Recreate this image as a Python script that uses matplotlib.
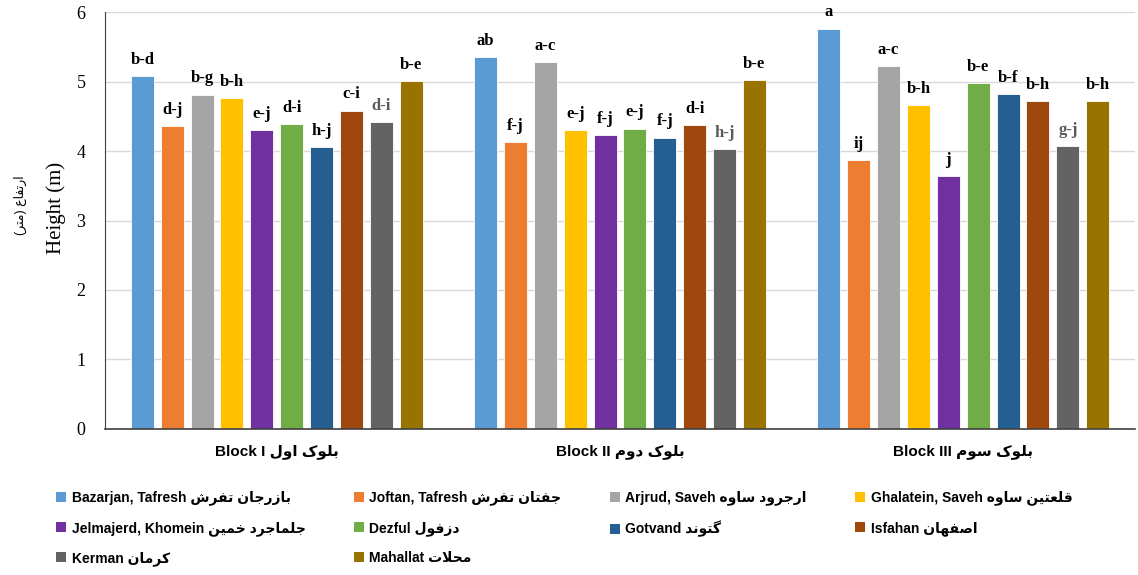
import numpy as np
import matplotlib
matplotlib.use("Agg")
import matplotlib.pyplot as plt
from matplotlib.patches import Patch

# data
blocks = ["Block I", "Block II", "Block III"]
blocks_fa = ["بلوک اول", "بلوک دوم", "بلوک سوم"]
sites = ["Bazarjan, Tafresh", "Joftan, Tafresh", "Arjrud, Saveh", "Ghalatein, Saveh",
         "Jelmajerd, Khomein", "Dezful", "Gotvand", "Isfahan", "Kerman", "Mahallat"]
sites_fa = ["بازرجان تفرش", "جفتان تفرش", "ارجرود ساوه", "قلعتین ساوه",
            "جلماجرد خمین", "دزفول", "گتوند", "اصفهان", "کرمان", "محلات"]
heights = [
    [5.08, 4.36, 4.81, 4.76, 4.30, 4.39, 4.06, 4.58, 4.42, 5.01],
    [5.35, 4.13, 5.28, 4.30, 4.23, 4.32, 4.19, 4.37, 4.03, 5.02],
    [5.76, 3.87, 5.22, 4.66, 3.64, 4.98, 4.82, 4.72, 4.07, 4.72],
]
letters = [
    ["b-d", "d-j", "b-g", "b-h", "e-j", "d-i", "h-j", "c-i", "d-i", "b-e"],
    ["ab", "f-j", "a-c", "e-j", "f-j", "e-j", "f-j", "d-i", "h-j", "b-e"],
    ["a", "ij", "a-c", "b-h", "j", "b-e", "b-f", "b-h", "g-j", "b-h"],
]
colors = ["#5B9BD5", "#ED7D31", "#A5A5A5", "#FFC000", "#7030A0",
          "#70AD47", "#255E91", "#9E480E", "#636363", "#997300"]

# minimal persian shaping (presentation forms), matplotlib does no shaping / bidi
FORMS = {
    "ا": (0xFE8D, 0xFE8E, None, None), "ب": (0xFE8F, 0xFE90, 0xFE91, 0xFE92),
    "ت": (0xFE95, 0xFE96, 0xFE97, 0xFE98), "ج": (0xFE9D, 0xFE9E, 0xFE9F, 0xFEA0),
    "ح": (0xFEA1, 0xFEA2, 0xFEA3, 0xFEA4), "خ": (0xFEA5, 0xFEA6, 0xFEA7, 0xFEA8),
    "د": (0xFEA9, 0xFEAA, None, None), "ر": (0xFEAD, 0xFEAE, None, None),
    "ز": (0xFEAF, 0xFEB0, None, None), "س": (0xFEB1, 0xFEB2, 0xFEB3, 0xFEB4),
    "ش": (0xFEB5, 0xFEB6, 0xFEB7, 0xFEB8), "ص": (0xFEB9, 0xFEBA, 0xFEBB, 0xFEBC),
    "ع": (0xFEC9, 0xFECA, 0xFECB, 0xFECC), "ف": (0xFED1, 0xFED2, 0xFED3, 0xFED4),
    "ق": (0xFED5, 0xFED6, 0xFED7, 0xFED8), "ل": (0xFEDD, 0xFEDE, 0xFEDF, 0xFEE0),
    "م": (0xFEE1, 0xFEE2, 0xFEE3, 0xFEE4), "ن": (0xFEE5, 0xFEE6, 0xFEE7, 0xFEE8),
    "ه": (0xFEE9, 0xFEEA, 0xFEEB, 0xFEEC), "و": (0xFEED, 0xFEEE, None, None),
    "ک": (0xFB8E, 0xFB8F, 0xFB90, 0xFB91), "گ": (0xFB92, 0xFB93, 0xFB94, 0xFB95),
    "ی": (0xFBFC, 0xFBFD, 0xFBFE, 0xFBFF),
}


def dual(c):
    return c in FORMS and FORMS[c][2] is not None


def shape(s):
    out = []
    i = 0
    while i < len(s):
        c = s[i]
        if c not in FORMS:
            out.append(c)
            i += 1
            continue
        prev = s[i - 1] if i > 0 else ""
        jp = dual(prev)
        if c == "ل" and i + 1 < len(s) and s[i + 1] == "ا":
            out.append(chr(0xFEFC if jp else 0xFEFB))
            i += 2
            continue
        nxt = s[i + 1] if i + 1 < len(s) else ""
        jn = dual(c) and nxt in FORMS
        f = FORMS[c]
        if jp and jn:
            code = f[3]
        elif jp:
            code = f[1]
        elif jn:
            code = f[2]
        else:
            code = f[0]
        out.append(chr(code))
        i += 1
    vis = "".join(reversed(out))
    return vis.translate(str.maketrans("()", ")("))


SANS = ["Liberation Sans", "DejaVu Sans"]
NARROW = ["Liberation Sans Narrow", "Liberation Sans", "DejaVu Sans"]
SERIF = ["Liberation Serif", "DejaVu Serif"]

fig = plt.figure(figsize=(11.38, 5.75), dpi=100)
ax = fig.add_axes([0.0923, 0.254, 0.905, 0.725])

n = len(sites)
slot = 0.087
width = 0.067
x = np.arange(len(blocks))
for j in range(n):
    xs = x + (j - (n - 1) / 2) * slot
    vals = [heights[b][j] for b in range(len(blocks))]
    ax.bar(xs, vals, width, color=colors[j], edgecolor="white", linewidth=0.6, zorder=3)
    for b in range(len(blocks)):
        ax.annotate(letters[b][j], (xs[b], vals[b]), xytext=(0, 6), textcoords="offset points",
                    ha="center", va="bottom", fontsize=12, fontweight="bold",
                    family=SERIF, color="#595959" if j == 8 else "black")

ax.set_xlim(-0.5, 2.5)
ax.set_ylim(0, 6)
ax.set_yticks(range(7))
ax.set_yticklabels([str(v) for v in range(7)], family=SERIF, fontsize=13)
ax.tick_params(axis="y", length=0, pad=14)
ax.tick_params(axis="x", length=0, pad=11)
ax.set_xticks(x)
ax.set_xticklabels([blocks[i] + " " + shape(blocks_fa[i]) for i in range(len(blocks))],
                   family=NARROW, fontweight="bold", fontsize=11)
ax.yaxis.grid(True, color="#D9D9D9", linewidth=1, zorder=0)
for s in ["top", "right"]:
    ax.spines[s].set_visible(False)
ax.spines["left"].set_color("#404040")
ax.spines["bottom"].set_color("#404040")
ax.spines["bottom"].set_linewidth(1.2)
ax.spines["bottom"].set_zorder(5)

fig.text(0.049, 0.638, "Height (m)", rotation=90, ha="center", va="center",
         family=SERIF, fontsize=15)
fig.text(0.018, 0.643, shape("ارتفاع (متر)"), rotation=90, ha="center", va="center",
         family=SANS, fontsize=9)

handles = [Patch(facecolor=colors[j]) for j in range(n)]
labels = [sites[j] + " " + shape(sites_fa[j]) for j in range(n)]
order = [0, 4, 8, 1, 5, 9, 2, 6, 3, 7]
fig.legend([handles[k] for k in order], [labels[k] for k in order],
           loc="lower center", bbox_to_anchor=(0.496, -0.006), ncol=4, frameon=False,
           prop={"family": SANS, "weight": "bold", "size": 10},
           handlelength=0.7, handleheight=0.7, handletextpad=0.4,
           columnspacing=3.5, labelspacing=1.12)

fig.savefig("out.png", dpi=100)
